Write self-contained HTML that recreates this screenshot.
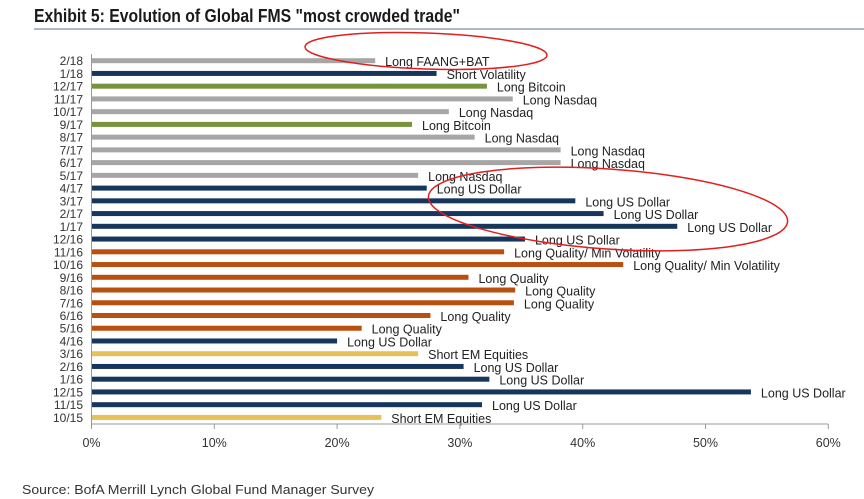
<!DOCTYPE html>
<html><head><meta charset="utf-8"><style>
body{margin:0;background:#fff;width:864px;height:499px;overflow:hidden}
svg{display:block;font-family:"Liberation Sans Narrow","Liberation Sans",Arial,sans-serif}
</style></head><body>
<svg id="c" width="864" height="499">
<text x="34" y="22" font-size="18" font-weight="bold" fill="#1a1a1a" textLength="426" lengthAdjust="spacingAndGlyphs">Exhibit 5: Evolution of Global FMS "most crowded trade"</text>
<line x1="34" y1="29" x2="864" y2="29" stroke="#5a7390" stroke-width="1"/>
<g id="bars"></g>
<text x="22" y="494" font-size="13" fill="#333" textLength="352" lengthAdjust="spacingAndGlyphs">Source: BofA Merrill Lynch Global Fund Manager Survey</text>
</svg>
<script>
const categories=["2/18","1/18","12/17","11/17","10/17","9/17","8/17","7/17","6/17","5/17","4/17","3/17","2/17","1/17","12/16","11/16","10/16","9/16","8/16","7/16","6/16","5/16","4/16","3/16","2/16","1/16","12/15","11/15","10/15"];
const values=[23.1,28.1,32.2,34.3,29.1,26.1,31.2,38.2,38.2,26.6,27.3,39.4,41.7,47.7,35.3,33.6,43.3,30.7,34.5,34.4,27.6,22.0,20.0,26.6,30.3,32.4,53.7,31.8,23.6];
const trades=["Long FAANG+BAT","Short Volatility","Long Bitcoin","Long Nasdaq","Long Nasdaq","Long Bitcoin","Long Nasdaq","Long Nasdaq","Long Nasdaq","Long Nasdaq","Long US Dollar","Long US Dollar","Long US Dollar","Long US Dollar","Long US Dollar","Long Quality/ Min Volatility","Long Quality/ Min Volatility","Long Quality","Long Quality","Long Quality","Long Quality","Long Quality","Long US Dollar","Short EM Equities","Long US Dollar","Long US Dollar","Long US Dollar","Long US Dollar","Short EM Equities"];
const ticks=[0,10,20,30,40,50,60];
const tickLabels=["0%","10%","20%","30%","40%","50%","60%"];
const colorFor=t=>t.includes("Dollar")||t.includes("Volatility")&&t.startsWith("Short")?"#17365d":t.includes("Bitcoin")?"#77933c":t.includes("Quality")?"#b9500f":t.startsWith("Short EM")?"#e6c15a":"#a6a6a6";
const x=v=>91.5+v*12.28;
const y=i=>60.7+i*12.74;
const NS="http://www.w3.org/2000/svg";
const g=document.getElementById("bars");
function mk(tag,attrs){const e=document.createElementNS(NS,tag);for(const k in attrs)e.setAttribute(k,attrs[k]);g.appendChild(e);return e;}
categories.forEach((c,i)=>{
  const r=mk("rect",{x:x(0),y:y(i)-2.5,width:x(values[i])-x(0),height:5,fill:colorFor(trades[i])});
  
  
  const l=mk("text",{x:83,y:y(i)+4.5,"font-size":"12","text-anchor":"end",fill:"#333"});l.textContent=c;
  
  
  const t=mk("text",{x:x(values[i])+10,y:y(i)+5.5,"font-size":"12.5",fill:"#222"});t.textContent=trades[i];
  
  
});
const ax=mk("line",{x1:x(0),y1:54,x2:x(0),y2:424,stroke:"#999"});


const xa=mk("line",{x1:x(0),y1:424,x2:x(60),y2:424,stroke:"#999"});


ticks.forEach((v,i)=>{
  const tk=mk("line",{x1:x(v),y1:424,x2:x(v),y2:429,stroke:"#999"});
  
  
  const tl=mk("text",{x:x(v),y:447,"font-size":"12.5","text-anchor":"middle",fill:"#333"});tl.textContent=tickLabels[i];
  
  
});
const e1=mk("ellipse",{cx:426,cy:51,rx:121,ry:18,fill:"none",stroke:"#e02020","stroke-width":1.5,transform:"rotate(2 426 51)"});


const e2=mk("ellipse",{cx:608,cy:209,rx:180,ry:40,fill:"none",stroke:"#e02020","stroke-width":1.5,transform:"rotate(4 608 209)"});


</script>
</body></html>
